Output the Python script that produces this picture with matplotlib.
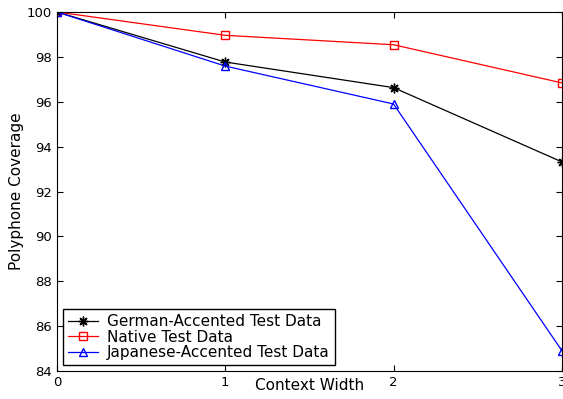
import numpy as np
import matplotlib
matplotlib.use('Agg')
import matplotlib.pyplot as plt

plt.rcParams['font.family'] = ['DejaVu Sans']

context_width = [0, 1, 2, 3]
german = [100.0, 97.77, 96.63, 93.32]
native = [100.0, 98.96, 98.54, 96.84]
japanese = [100.0, 97.59, 95.9, 84.91]

fig = plt.figure(figsize=(5.63, 3.99), dpi=100)
ax = fig.add_axes([0.101, 0.070, 0.897, 0.900])

ax.plot(context_width, german, color='black', marker=(8, 2, 0), markersize=7,
        markeredgewidth=1.0, linewidth=0.9, label='German-Accented Test Data')
ax.plot(context_width, native, color='red', marker='s', markersize=6,
        markerfacecolor='none', linewidth=0.9, label='Native Test Data')
ax.plot(context_width, japanese, color='blue', marker='^', markersize=6,
        markerfacecolor='none', linewidth=0.9, label='Japanese-Accented Test Data')

ax.set_xlim(0, 3)
ax.set_ylim(84, 100)
ax.set_xticks([0, 1, 2, 3])
ax.set_yticks(np.arange(84, 101, 2))
ax.tick_params(direction='in', top=True, right=True, labelsize=9.5, length=4)
ax.set_xlabel('Context Width', fontsize=11, labelpad=-8)
ax.set_ylabel('Polyphone Coverage', fontsize=11, labelpad=2)

leg = ax.legend(loc='lower left', prop={'size': 11}, fancybox=False,
                framealpha=1, edgecolor='black', handlelength=2.0,
                handletextpad=0.6, borderpad=0.3, labelspacing=0.05,
                borderaxespad=0.4)
leg.get_frame().set_linewidth(1.0)

fig.savefig('out.png', dpi=100)
